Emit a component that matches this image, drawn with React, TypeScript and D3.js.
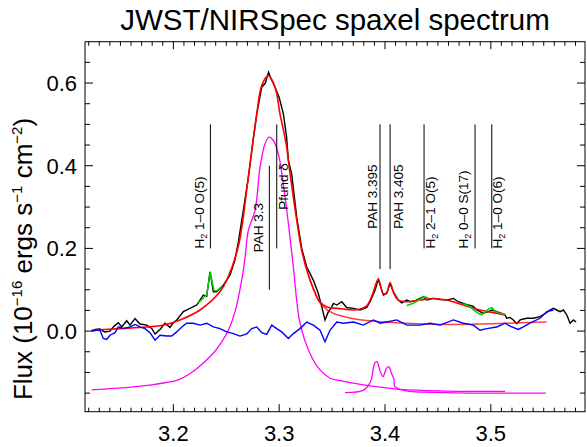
import React from "react";
import * as d3 from "d3";

// ---------- data (wavelength in micron, flux in 1e-16 erg/s/cm2) ----------
const titleText = "JWST/NIRSpec spaxel spectrum";
const xTickValues = [3.2, 3.3, 3.4, 3.5];
const yTickValues = [0.0, 0.2, 0.4, 0.6];

const blackSpectrum: [number, number][] = [
  [3.1228, 0.0], [3.126, 0.004], [3.1307, 0.005], [3.135, -0.002], [3.1401, 0.0], [3.144, 0.012],
  [3.148, 0.02], [3.1512, 0.01], [3.1559, 0.025], [3.159, 0.0145], [3.1638, 0.03], [3.1685, 0.017],
  [3.1748, 0.0145], [3.1795, 0.0065], [3.1827, -0.007], [3.1874, 0.004], [3.1921, 0.019], [3.1968, 0.009],
  [3.2, 0.02], [3.2032, 0.027], [3.2094, 0.047], [3.2157, 0.055], [3.2221, 0.063], [3.2283, 0.087],
  [3.2315, 0.084], [3.2346, 0.143], [3.2378, 0.095], [3.241, 0.095], [3.2472, 0.111], [3.2535, 0.135],
  [3.258, 0.17], [3.2614, 0.215], [3.266, 0.29], [3.2708, 0.37], [3.275, 0.455], [3.2788, 0.525],
  [3.2835, 0.59], [3.287, 0.6], [3.2882, 0.612], [3.29, 0.626], [3.2915, 0.615], [3.2961, 0.59],
  [3.3, 0.565], [3.304, 0.525], [3.307, 0.469], [3.3087, 0.413], [3.3118, 0.38], [3.3166, 0.275],
  [3.3213, 0.2], [3.326, 0.155], [3.3292, 0.139], [3.3323, 0.123], [3.337, 0.091], [3.3402, 0.059],
  [3.3433, 0.027], [3.3465, 0.047], [3.349, 0.055], [3.3512, 0.067], [3.3544, 0.063], [3.3591, 0.071],
  [3.3638, 0.057], [3.3701, 0.055], [3.3764, 0.051], [3.3828, 0.057], [3.3859, 0.071], [3.3906, 0.099],
  [3.3937, 0.125], [3.3984, 0.087], [3.4016, 0.091], [3.4048, 0.115], [3.4079, 0.095], [3.4126, 0.075],
  [3.4158, 0.068], [3.4206, 0.075], [3.4237, 0.071], [3.4284, 0.073], [3.4331, 0.079], [3.4363, 0.083],
  [3.4395, 0.075], [3.4457, 0.079], [3.452, 0.076], [3.4583, 0.075], [3.4646, 0.079], [3.4693, 0.071],
  [3.474, 0.067], [3.4788, 0.063], [3.4835, 0.06], [3.4867, 0.051], [3.493, 0.043], [3.4977, 0.047],
  [3.5009, 0.051], [3.5056, 0.047], [3.5103, 0.043], [3.5135, 0.039], [3.515, 0.031], [3.5182, 0.033],
  [3.5213, 0.027], [3.5245, 0.018], [3.5277, 0.027], [3.534, 0.031], [3.5402, 0.031], [3.5466, 0.035],
  [3.5529, 0.045], [3.556, 0.051], [3.5591, 0.055], [3.5623, 0.051], [3.5654, 0.047], [3.5686, 0.051],
  [3.5718, 0.039], [3.5749, 0.019], [3.578, 0.027], [3.5806, 0.022],
];

const blueResidual: [number, number][] = [
  [3.1228, 0.0], [3.1276, 0.002], [3.1307, 0.002], [3.1338, -0.018], [3.137, -0.02], [3.1401, -0.01],
  [3.1449, -0.004], [3.148, 0.01], [3.1527, 0.006], [3.159, 0.01], [3.1638, 0.016], [3.1685, 0.01],
  [3.1732, 0.006], [3.178, -0.004], [3.1827, -0.022], [3.1874, -0.01], [3.1937, -0.012], [3.1984, -0.012],
  [3.2032, -0.002], [3.2079, 0.01], [3.2126, 0.019], [3.2189, 0.019], [3.2252, 0.0145], [3.2315, 0.019],
  [3.2378, 0.01], [3.2441, 0.006], [3.2504, -0.002], [3.2567, -0.006], [3.263, -0.012], [3.2693, -0.007],
  [3.2741, 0.006], [3.2788, 0.01], [3.2835, -0.004], [3.2882, -0.008], [3.293, 0.0145], [3.2977, 0.006],
  [3.3024, -0.002], [3.3087, -0.018], [3.3134, -0.006], [3.3197, 0.006], [3.326, 0.022], [3.3323, 0.0145],
  [3.3386, 0.002], [3.3433, -0.026], [3.348, 0.002], [3.3544, 0.022], [3.3606, 0.019], [3.3701, 0.022],
  [3.3795, 0.0145], [3.389, 0.027], [3.3953, 0.019], [3.4016, 0.022], [3.4111, 0.027], [3.4206, 0.0145],
  [3.4331, 0.0145], [3.4426, 0.019], [3.452, 0.0145], [3.4646, 0.027], [3.474, 0.019], [3.4835, 0.0145],
  [3.4898, 0.002], [3.4962, 0.006], [3.5056, 0.01], [3.5135, 0.019], [3.5182, 0.012], [3.526, 0.004],
  [3.5307, 0.01], [3.537, 0.019], [3.5465, 0.031], [3.5529, 0.047], [3.5591, 0.051],
];

const redFit: [number, number][] = [
  [3.1228, 0.002], [3.15, 0.006], [3.175, 0.01], [3.19, 0.014], [3.2063, 0.027], [3.2252, 0.051],
  [3.244, 0.095], [3.2504, 0.123], [3.2614, 0.205], [3.2708, 0.372], [3.2788, 0.525], [3.2835, 0.594],
  [3.2898, 0.618], [3.2961, 0.59], [3.3008, 0.525], [3.3065, 0.454], [3.3103, 0.38], [3.3166, 0.268],
  [3.3213, 0.195], [3.3276, 0.135], [3.333, 0.098], [3.338, 0.072], [3.345, 0.058], [3.355, 0.055],
  [3.365, 0.052], [3.375, 0.052], [3.383, 0.062], [3.388, 0.088], [3.3937, 0.125], [3.3984, 0.09],
  [3.4016, 0.093], [3.4048, 0.117], [3.4085, 0.09], [3.4126, 0.075], [3.4206, 0.071], [3.4331, 0.075],
  [3.4457, 0.079], [3.4583, 0.075], [3.474, 0.063], [3.4898, 0.051], [3.5056, 0.043], [3.5135, 0.039],
];

const redContinuum: [number, number][] = [
  [3.3276, 0.135], [3.333, 0.098], [3.338, 0.07], [3.345, 0.052], [3.352, 0.042], [3.36, 0.036],
  [3.37, 0.03], [3.385, 0.025], [3.4, 0.022], [3.43, 0.018], [3.46, 0.016], [3.49, 0.017],
  [3.515, 0.019], [3.535, 0.021], [3.5527, 0.022],
];

const greenLine1: [number, number][] = [
  [3.2236, 0.068], [3.2283, 0.08], [3.2315, 0.088], [3.2335, 0.12], [3.235, 0.143], [3.2365, 0.12],
  [3.2385, 0.098], [3.241, 0.097], [3.2457, 0.108],
];
const greenLine2: [number, number][] = [
  [3.4206, 0.062], [3.4255, 0.066], [3.43, 0.072], [3.435, 0.08], [3.438, 0.083], [3.441, 0.079],
];
const greenLine3: [number, number][] = [
  [3.474, 0.066], [3.479, 0.061], [3.4835, 0.052], [3.488, 0.043], [3.4915, 0.04], [3.495, 0.046],
  [3.4985, 0.055], [3.501, 0.057], [3.5035, 0.049], [3.507, 0.044], [3.5135, 0.041],
];

const magentaPah33: [number, number][] = [
  [3.1228, -0.142], [3.1575, -0.136], [3.1795, -0.13], [3.1921, -0.125], [3.2047, -0.118],
  [3.2205, -0.094], [3.2362, -0.058], [3.2457, -0.026], [3.252, 0.002], [3.2583, 0.047],
  [3.2646, 0.123], [3.2678, 0.179], [3.2709, 0.244], [3.2772, 0.292], [3.2819, 0.396],
  [3.2866, 0.453], [3.2904, 0.469], [3.2945, 0.461], [3.2992, 0.429], [3.3039, 0.356],
  [3.3087, 0.26], [3.3134, 0.155], [3.3197, 0.019], [3.3291, -0.054], [3.3386, -0.094],
  [3.348, -0.114], [3.3575, -0.12], [3.3795, -0.13], [3.4142, -0.141], [3.4583, -0.145], [3.5135, -0.146],
];

const magentaPah34: [number, number][] = [
  [3.3622, -0.149], [3.3788, -0.144], [3.3835, -0.134], [3.387, -0.118], [3.3902, -0.078],
  [3.3925, -0.074], [3.395, -0.094], [3.3981, -0.11], [3.4013, -0.09], [3.4035, -0.086],
  [3.4061, -0.102], [3.4086, -0.118], [3.4092, -0.134], [3.4187, -0.144], [3.4565, -0.149], [3.5519, -0.15],
];

const lineNames = ["H2 1–0 O(5)", "PAH 3.3", "Pfund δ", "PAH 3.395", "PAH 3.405", "H2 2–1 O(5)", "H2 0–0 S(17)", "H2 1–0 O(6)"];
const lineWaves = [3.235, 3.2907, 3.2977, 3.3953, 3.4048, 3.4369, 3.4851, 3.5009];
const lineTops = [0.5, 0.4, 0.5, 0.5, 0.5, 0.5, 0.5, 0.5];
const lineBottoms = [0.2, 0.1, 0.2, 0.15, 0.15, 0.2, 0.2, 0.2];

// ---------- layout ----------
const W = 587;
const H = 447;
const left = 85, right = 585, top = 41.7, bottom = 411.7;
const FONT = "'Liberation Sans', Arial, Helvetica, sans-serif";

// label layout: baseline offset from line (px), 'bottom' anchor or 'center'
const labelOffsets = [-6, -6, 11.5, -3.5, 13.3, 10.5, -7.5, 10.3];
const labelAlign = ["bottom", "center", "center", "center", "center", "bottom", "bottom", "bottom"];

export default function App() {
  const x = d3.scaleLinear().domain([3.1165, 3.589]).range([left, right]);
  const y = d3.scaleLinear().domain([-0.195, 0.7]).range([bottom, top]);

  const jag = d3.line<[number, number]>().x((d) => x(d[0])).y((d) => y(d[1])).curve(d3.curveLinear);
  const smooth = d3.line<[number, number]>().x((d) => x(d[0])).y((d) => y(d[1])).curve(d3.curveCatmullRom.alpha(0.5));

  const xMinor = d3.range(312, 359).map((v) => v / 100);
  const yMinor = d3.range(-3, 14).map((v) => v * 0.05);

  const renderLabel = (name: string, i: number) => {
    const lx = x(lineWaves[i]);
    const yt = y(lineTops[i]);
    const yb = y(lineBottoms[i]);
    const bx = lx + labelOffsets[i];
    const isH2 = name.startsWith("H2");
    const align = labelAlign[i];
    const ty = align === "bottom" ? yb : (yt + yb) / 2;
    const anchor = align === "bottom" ? "start" : "middle";
    return (
      <g key={name}>
        <line x1={lx} x2={lx} y1={yt} y2={yb} stroke="#000" strokeWidth={1} />
        <text
          transform={`translate(${bx},${ty}) rotate(-90)`}
          textAnchor={anchor}
          fontSize={13.5}
          fontFamily={FONT}
          fill="#000"
        >
          {isH2 ? (
            <>
              <tspan>H</tspan>
              <tspan fontSize={9} dy={3}>2</tspan>
              <tspan dy={-3}>{" " + name.slice(3)}</tspan>
            </>
          ) : (
            name
          )}
        </text>
      </g>
    );
  };

  return (
    <svg
      width={W}
      height={H}
      style={{ position: "absolute", left: 0, top: 0, background: "#fff" }}
      xmlns="http://www.w3.org/2000/svg"
    >
      <rect x={0} y={0} width={W} height={H} fill="#fff" />
      {/* title */}
      <text x={(left + right) / 2} y={30} textAnchor="middle" fontSize={29.5} fontFamily={FONT} fill="#000">
        {titleText}
      </text>
      {/* y label */}
      <text transform={`translate(32,259) rotate(-90)`} textAnchor="middle" fontSize={26} fontFamily={FONT} fill="#000">
        <tspan>Flux (10</tspan>
        <tspan fontSize={15} dy={-10}>−16</tspan>
        <tspan dy={10}> ergs s</tspan>
        <tspan fontSize={15} dy={-10}>−1</tspan>
        <tspan dy={10}> cm</tspan>
        <tspan fontSize={15} dy={-10}>−2</tspan>
        <tspan dy={10}>)</tspan>
      </text>

      {/* series */}
      <path d={smooth(magentaPah33) || ""} fill="none" stroke="#ff00ff" strokeWidth={1.3} />
      <path d={smooth(magentaPah34) || ""} fill="none" stroke="#ff00ff" strokeWidth={1.3} />
      <path d={jag(blackSpectrum) || ""} fill="none" stroke="#000" strokeWidth={1.4} />
      <path d={smooth(redContinuum) || ""} fill="none" stroke="#ff0000" strokeWidth={1.5} opacity={0.75} />
      <path d={smooth(redFit) || ""} fill="none" stroke="#ff0000" strokeWidth={1.6} />
      <path d={jag(greenLine1) || ""} fill="none" stroke="#00d000" strokeWidth={1.5} />
      <path d={jag(greenLine2) || ""} fill="none" stroke="#00d000" strokeWidth={1.5} />
      <path d={jag(greenLine3) || ""} fill="none" stroke="#00d000" strokeWidth={1.5} />
      <path d={jag(blueResidual) || ""} fill="none" stroke="#0000ff" strokeWidth={1.4} />

      {/* line annotations */}
      {lineNames.map(renderLabel)}

      {/* frame */}
      <rect x={left} y={top} width={right - left} height={bottom - top} fill="none" stroke="#000" strokeWidth={1} />

      {/* x ticks */}
      {xMinor.map((v) => {
        const major = xTickValues.some((t) => Math.abs(t - v) < 1e-6);
        const len = major ? 7.5 : 4;
        return (
          <g key={"xt" + v}>
            <line x1={x(v)} x2={x(v)} y1={bottom} y2={bottom - len} stroke="#000" strokeWidth={1} />
            <line x1={x(v)} x2={x(v)} y1={top} y2={top + len} stroke="#000" strokeWidth={1} />
          </g>
        );
      })}
      {xTickValues.map((v) => (
        <text key={"xl" + v} x={x(v)} y={441} textAnchor="middle" fontSize={22} fontFamily={FONT} fill="#000">
          {v.toFixed(1)}
        </text>
      ))}

      {/* y ticks */}
      {yMinor.map((v) => {
        const major = yTickValues.some((t) => Math.abs(t - v) < 1e-6);
        const len = major ? 8 : 5;
        return (
          <g key={"yt" + v}>
            <line x1={left} x2={left + len} y1={y(v)} y2={y(v)} stroke="#000" strokeWidth={1} />
            <line x1={right} x2={right - len} y1={y(v)} y2={y(v)} stroke="#000" strokeWidth={1} />
          </g>
        );
      })}
      {yTickValues.map((v) => (
        <text key={"yl" + v} x={77} y={y(v) + 8} textAnchor="end" fontSize={22} fontFamily={FONT} fill="#000">
          {v.toFixed(1)}
        </text>
      ))}
    </svg>
  );
}
